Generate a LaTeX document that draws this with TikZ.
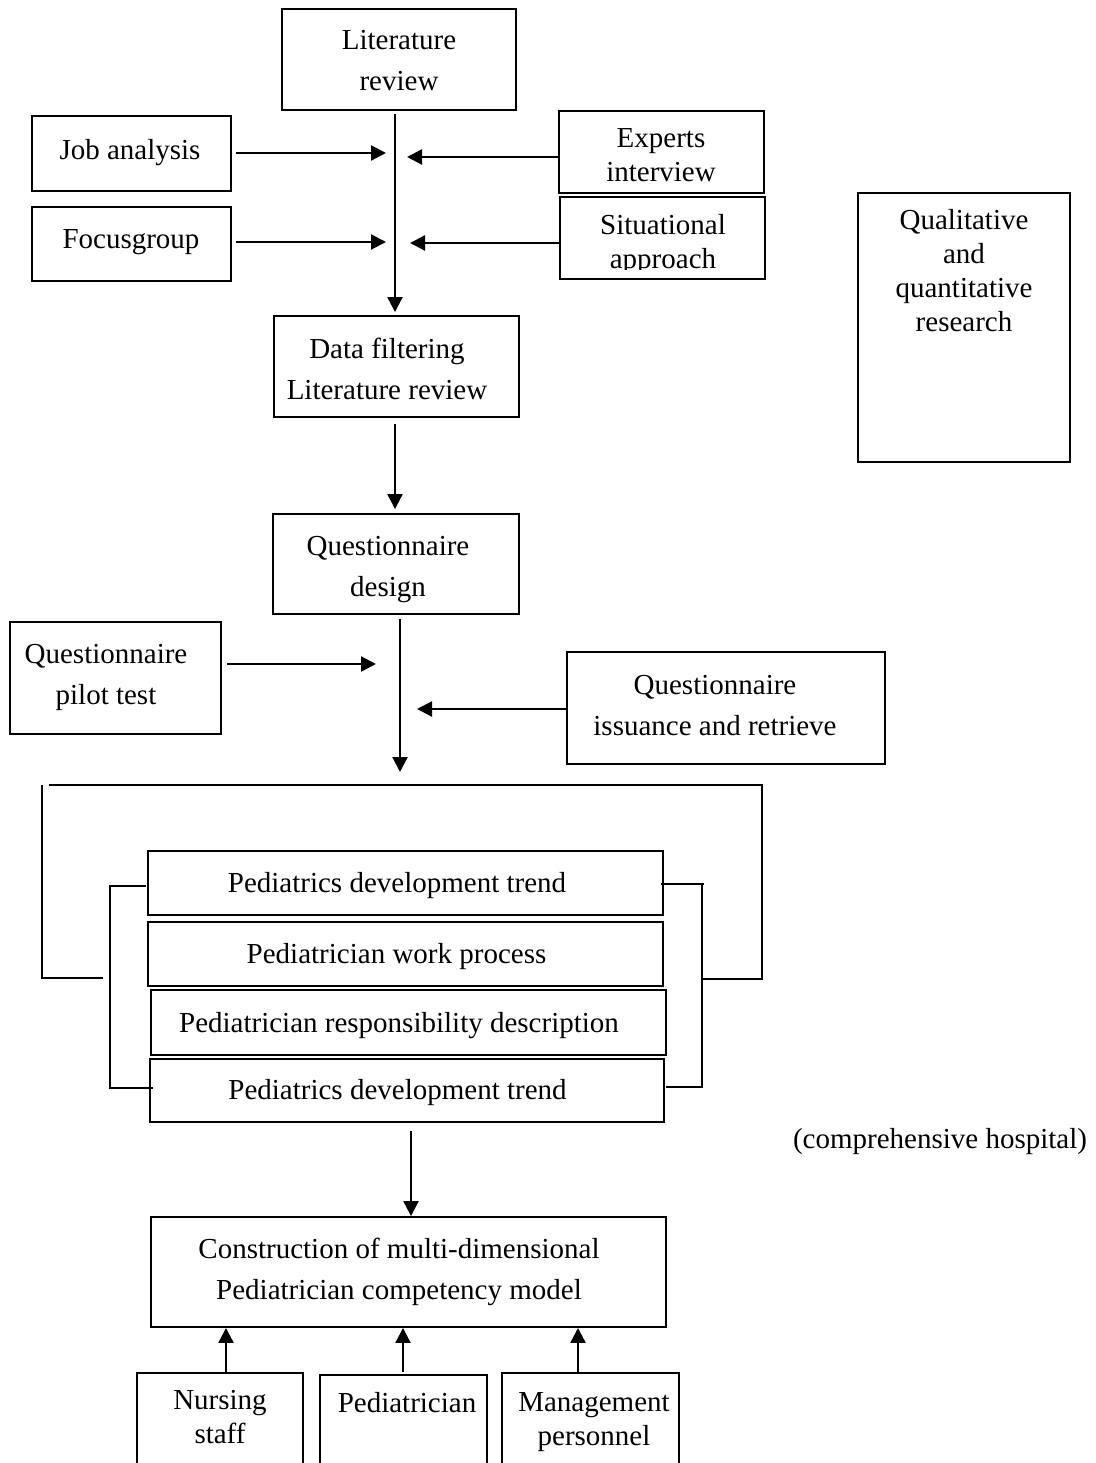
\documentclass[tikz,border=0pt]{standalone}
\usepackage{fontspec}
\setmainfont{Liberation Serif}
\usetikzlibrary{arrows.meta}
\begin{document}
\begin{tikzpicture}[x=1pt,y=-1pt,
  box/.style={draw,line width=1.9pt,inner sep=0pt},
  lbl/.style={align=center,inner sep=0pt,font=\fontsize{29}{41}\selectfont},
  lbltight/.style={align=center,inner sep=0pt,font=\fontsize{29}{34}\selectfont},
  arr/.style={line width=2.2pt,-{Triangle[length=15pt,width=15pt]}},
  ln/.style={line width=2pt}]
\useasboundingbox (0,0) rectangle (1095,1463);
\clip (0,0) rectangle (1095,1463);

% ---------- boxes ----------
\node[box,minimum width=234pt,minimum height=101pt] (lit) at (399,59.5) {};
\node[box,minimum width=199pt,minimum height=75pt] (job) at (131.5,153.5) {};
\node[box,minimum width=205pt,minimum height=82pt] (exp) at (661.5,152) {};
\node[box,minimum width=199pt,minimum height=74pt] (foc) at (131.5,244) {};
\node[box,minimum width=205pt,minimum height=82pt] (sit) at (662.5,238) {};
\node[box,minimum width=212pt,minimum height=269pt] (qual) at (964,327.5) {};
\node[box,minimum width=245pt,minimum height=101pt] (df) at (396.5,366.5) {};
\node[box,minimum width=246pt,minimum height=100pt] (qd) at (396,564) {};
\node[box,minimum width=211pt,minimum height=112pt] (qpt) at (115.5,678) {};
\node[box,minimum width=318pt,minimum height=112pt] (qir) at (726,708) {};
\node[box,minimum width=515pt,minimum height=64pt] (p1) at (405.5,883) {};
\node[box,minimum width=515pt,minimum height=64pt] (p2) at (405.5,954) {};
\node[box,minimum width=515pt,minimum height=65pt] (p3) at (408.5,1022.5) {};
\node[box,minimum width=514pt,minimum height=63pt] (p4) at (407,1090.5) {};
\node[box,minimum width=515pt,minimum height=110pt] (cons) at (408.5,1272) {};
\node[box,minimum width=166pt,minimum height=127pt] (ns) at (220,1436.5) {};
\node[box,minimum width=167pt,minimum height=125pt] (ped) at (403.5,1437.5) {};
\node[box,minimum width=177pt,minimum height=127pt] (mp) at (590.5,1436.5) {};

% ---------- texts ----------
\node[lbl] (lit-t) at (399,62) {\strut Literature\\\strut review};
\node[lbl] (job-t) at (130,151) {\strut Job analysis};
\node[lbltight] (exp-t) at (661,158) {\strut Experts\\\strut interview};
\node[lbl] (foc-t) at (131,240) {\strut Focusgroup};
\coordinate (sitcut) at (0,269);
\begin{scope}
  \clip (sit.north west) rectangle (sit.east |- sitcut);
  \node[lbltight] (sit-t) at (663,244.5) {\strut Situational\\\strut approach};
\end{scope}
\node[lbltight] (qual-t) at (964,274) {\strut Qualitative\\\strut and\\\strut quantitative\\\strut research};
\node[lbl] (df-t) at (387,371) {\strut Data filtering\\\strut Literature review};
\node[lbl] (qd-t) at (388,567.5) {\strut Questionnaire\\\strut design};
\node[lbl] (qpt-t) at (106,675.5) {\strut Questionnaire\\\strut pilot test};
\node[lbl] (qir-t) at (715,706.5) {\strut Questionnaire\\\strut issuance and retrieve};
\node[lbl] (p1-t) at (397,884) {\strut Pediatrics development trend};
\node[lbl] (p2-t) at (396.5,955) {\strut Pediatrician work process};
\node[lbl] (p3-t) at (399,1024) {\strut Pediatrician responsibility description};
\node[lbl] (p4-t) at (397.5,1091) {\strut Pediatrics development trend};
\node[lbl] (comp-t) at (940,1140) {\strut (comprehensive hospital)};
\node[lbl] (cons-t) at (399,1271) {\strut Construction of multi-dimensional\\\strut Pediatrician competency model};
\node[lbltight] (ns-t) at (220,1420) {\strut Nursing\\\strut staff};
\node[lbl] (ped-t) at (407,1404) {\strut Pediatrician};
\node[lbltight] (mp-t) at (594,1421.5) {\strut Management\\\strut personnel};

% ---------- arrow end points ----------
\coordinate (ja) at (386,153);
\coordinate (ea) at (407,157);
\coordinate (fa) at (386,242);
\coordinate (sa) at (410,243);
\coordinate (pa) at (376,664);
\coordinate (ia) at (417,709);
\coordinate (v1) at (395,0);
\coordinate (qend) at (400,772);
\coordinate (v3) at (411,0);
\coordinate (b1) at (226,0);
\coordinate (b2) at (403,0);
\coordinate (b3) at (578,0);

% ---------- connectors ----------
\draw[arr,shorten <=3pt,shorten >=3pt] (lit.south -| v1) -- (df.north -| v1);
\draw[arr,shorten <=4pt] (job.east |- ja) -- (ja);
\draw[arr] (exp.west |- ea) -- (ea);
\draw[arr,shorten <=4pt] (foc.east |- fa) -- (fa);
\draw[arr] (sit.west |- sa) -- (sa);
\draw[arr,shorten <=6pt,shorten >=4pt] (df.south -| v1) -- (qd.north -| v1);
\draw[arr,shorten <=4pt] (qd.south -| qend) -- (qend);
\draw[arr,shorten <=5pt] (qpt.east |- pa) -- (pa);
\draw[arr] (qir.west |- ia) -- (ia);
\draw[arr,shorten <=8pt] (p4.south -| v3) -- (cons.north -| v3);
\draw[arr] (ns.north -| b1) -- (cons.south -| b1);
\draw[arr,shorten <=2pt] (ped.north -| b2) -- (cons.south -| b2);
\draw[arr] (mp.north -| b3) -- (cons.south -| b3);

% ---------- brackets ----------
\draw[ln] (103,978) -- (42,978) -- (42,785);
\draw[ln] (49,785) -- (762,785) -- (762,979) -- (702,979);
\draw[ln] (146,886) -- (110,886) -- (110,1088) -- (153,1088);
\draw[ln] (661,884) -- (704,884);
\draw[ln] (702,884) -- (702,1087) -- (666,1087);
\end{tikzpicture}
\end{document}
